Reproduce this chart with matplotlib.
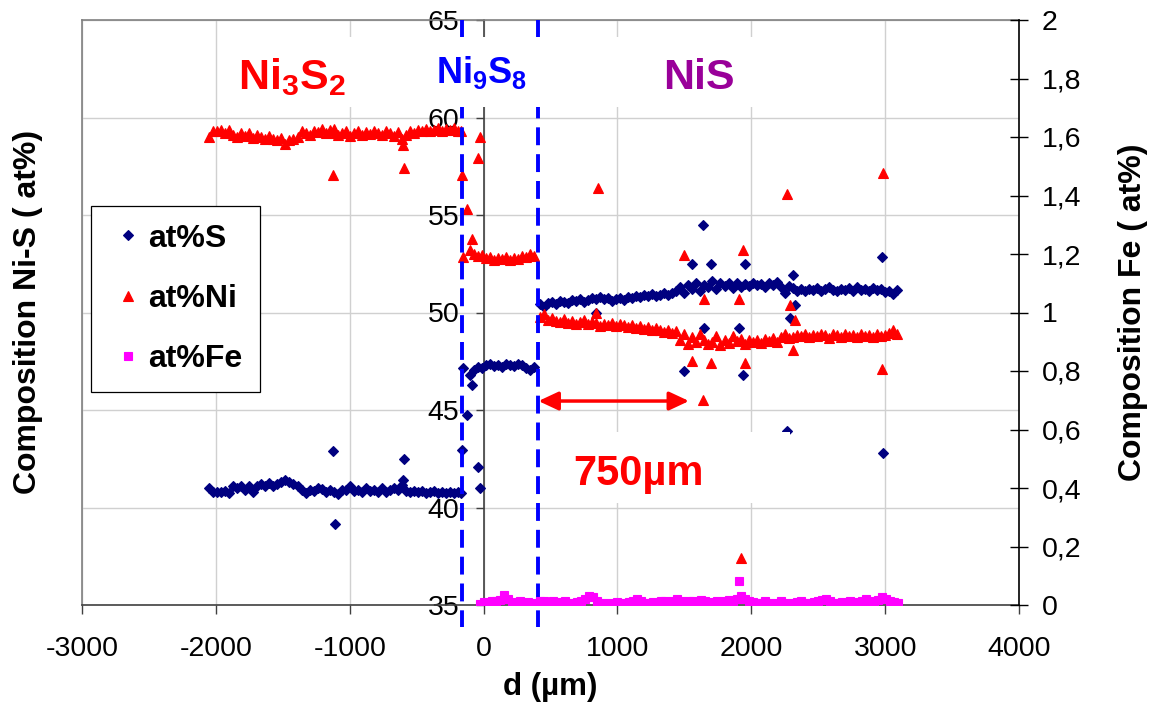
import matplotlib
matplotlib.use('Agg')
import matplotlib.pyplot as plt
from matplotlib.lines import Line2D
from matplotlib.patches import Rectangle

plt.rcParams['font.family'] = ['Liberation Sans', 'DejaVu Sans']
plt.rcParams['mathtext.default'] = 'regular'
plt.rcParams['axes.unicode_minus'] = False

# ---------------- data ----------------
# Ni3S2 zone
d_ni3s2 = [-2050, -2020, -1990, -1960, -1930, -1900, -1870, -1840, -1810, -1780,
           -1750, -1720, -1690, -1660, -1630, -1600, -1570, -1540, -1510, -1480,
           -1450, -1420, -1390, -1360, -1330, -1300, -1270, -1240, -1210, -1180,
           -1150, -1120, -1090, -1060, -1030, -1000, -970, -940, -910, -880,
           -850, -820, -790, -760, -730, -700, -670, -640, -610, -580,
           -550, -520, -490, -460, -430, -400, -370, -340, -310, -280,
           -250, -220, -190]
s_ni3s2 = [41.0, 40.8, 40.8, 40.8, 40.85, 40.75, 41.1, 41.0, 41.1, 40.9,
           41.1, 40.8, 41.1, 41.2, 41.1, 41.25, 41.1, 41.2, 41.3, 41.4,
           41.3, 41.2, 41.1, 40.9, 40.75, 40.9, 40.85, 41.0, 40.95, 40.8,
           40.9, 40.8, 40.7, 40.9, 40.9, 41.1, 40.85, 40.9, 40.8, 41.0,
           40.85, 40.9, 40.8, 41.0, 40.8, 40.9, 41.0, 40.9, 41.15, 40.85,
           40.8, 40.85, 40.8, 40.85, 40.75, 40.8, 40.85, 40.75, 40.8, 40.75,
           40.8, 40.75, 40.8]
ni_ni3s2 = [59.0, 59.3, 59.3, 59.35, 59.2, 59.35, 59.1, 59.0, 59.2, 59.05,
            59.2, 58.95, 59.1, 59.0, 58.9, 59.05, 58.9, 58.85, 58.95, 58.65,
            58.85, 58.9, 59.0, 59.3, 59.2, 59.1, 59.3, 59.25, 59.4, 59.2,
            59.35, 59.4, 59.1, 59.2, 59.3, 59.05, 59.2, 59.3, 59.1, 59.25,
            59.15, 59.3, 59.2, 59.1, 59.3, 59.2, 59.05, 59.25, 58.9, 59.1,
            59.3, 59.2, 59.35, 59.3, 59.4, 59.3, 59.35, 59.45, 59.3, 59.4,
            59.35, 59.45, 59.3]
d_ni3s2_out = [-1125, -1110, -605, -595]
s_ni3s2_out = [42.9, 39.15, 41.4, 42.5]
ni_ni3s2_out = [57.05, 59.2, 58.6, 57.4]

# transition Ni3S2 -> Ni9S8
d_trans = [-170, -160, -150, -125, -102, -87, -45, -30]
s_trans = [40.75, 42.95, 47.15, 44.75, 46.8, 46.3, 42.1, 41.0]
ni_trans = [59.3, 57.05, 52.85, 55.3, 53.2, 53.75, 57.9, 59.0]

# Ni9S8 zone
d_ni9s8 = [-70, -40, -10, 20, 50, 80, 110, 140, 170, 200, 230, 260, 290, 320, 350, 380]
s_ni9s8 = [47.05, 47.2, 47.15, 47.3, 47.35, 47.25, 47.3, 47.2, 47.35, 47.3,
           47.25, 47.35, 47.3, 47.15, 47.05, 47.2]
ni_ni9s8 = [53.0, 52.9, 52.95, 52.8, 52.85, 52.7, 52.8, 52.75, 52.85, 52.7,
            52.8, 52.75, 52.9, 52.85, 53.0, 52.9]

# NiS zone
d_nis = [420, 450, 480, 510, 540, 570, 600, 630, 660, 690,
         720, 750, 780, 810, 840, 870, 900, 930, 960, 990,
         1020, 1050, 1080, 1110, 1140, 1170, 1200, 1230, 1260, 1290,
         1320, 1350, 1380, 1410, 1440, 1470, 1500, 1530, 1560, 1590,
         1620, 1650, 1680, 1710, 1740, 1770, 1800, 1830, 1860, 1890,
         1920, 1950, 1980, 2010, 2040, 2070, 2100, 2130, 2160, 2190,
         2220, 2250, 2280, 2310, 2340, 2370, 2400, 2430, 2460, 2490,
         2520, 2550, 2580, 2610, 2640, 2670, 2700, 2730, 2760, 2790,
         2820, 2850, 2880, 2910, 2940, 2970, 3000, 3030, 3060, 3090]
s_nis = [50.45, 50.3, 50.5, 50.55, 50.45, 50.6, 50.55, 50.5, 50.65, 50.6,
         50.7, 50.55, 50.65, 50.75, 50.7, 50.8, 50.7, 50.75, 50.6, 50.7,
         50.75, 50.65, 50.8, 50.75, 50.85, 50.8, 50.9, 50.85, 50.95, 50.85,
         50.9, 51.0, 50.9, 51.0, 51.1, 51.3, 51.0, 51.4, 51.2, 51.5,
         51.1, 51.4, 51.3, 51.6, 51.2, 51.5, 51.35, 51.5, 51.25, 51.5,
         51.3, 51.45, 51.35, 51.5, 51.4, 51.45, 51.3, 51.5, 51.4, 51.55,
         51.3, 51.0, 51.35, 51.25, 51.1, 51.2, 51.1, 51.2, 51.15, 51.25,
         51.1, 51.2, 51.3, 51.15, 51.1, 51.2, 51.15, 51.25, 51.1, 51.3,
         51.15, 51.2, 51.1, 51.25, 51.15, 51.2, 51.05, 51.1, 50.95, 51.15]
ni_nis = [49.75, 49.9, 49.6, 49.7, 49.55, 49.5, 49.65, 49.45, 49.55, 49.4,
          49.5, 49.6, 49.4, 49.5, 49.45, 49.3, 49.4, 49.35, 49.45, 49.3,
          49.4, 49.35, 49.25, 49.35, 49.2, 49.3, 49.15, 49.25, 49.1, 49.2,
          49.1, 49.0, 49.1, 48.95, 49.05, 48.6, 48.9, 48.4, 48.75, 48.5,
          48.9, 48.6, 48.4, 48.5, 48.8, 48.35, 48.6, 48.45, 48.8, 48.55,
          48.65, 48.4, 48.6, 48.5, 48.6, 48.45, 48.65, 48.55, 48.7, 48.5,
          48.75, 48.9, 48.7, 48.75, 48.85, 48.8, 48.9, 48.75, 48.85, 48.8,
          48.9, 48.85, 48.7, 48.9, 48.85, 48.75, 48.9, 48.8, 48.85, 48.75,
          48.9, 48.8, 48.85, 48.75, 48.9, 48.8, 48.85, 48.95, 49.1, 48.9]
d_nis_out = [840, 855, 1497, 1557, 1640, 1645, 1700, 1905, 1920, 1937,
             1950, 2265, 2290, 2310, 2325, 2980, 2985]
s_nis_out = [50.0, 43.6, 47.0, 52.5, 54.5, 49.2, 52.5, 49.2, 62.5, 46.8,
             52.5, 43.9, 49.7, 51.9, 50.4, 52.85, 42.8]
ni_nis_out = [50.0, 56.4, 52.95, 47.5, 45.5, 50.7, 47.4, 50.7, 37.4, 53.2,
              47.4, 56.1, 50.4, 48.1, 49.6, 47.1, 57.15]

# Fe (right axis)
d_fe = [-25, 5, 35, 65, 95, 125, 155, 185, 215, 245,
        275, 305, 335, 365, 395, 425, 455, 485, 515, 545,
        575, 605, 635, 665, 695, 725, 755, 785, 815, 845,
        875, 905, 935, 965, 995, 1025, 1055, 1085, 1115, 1145,
        1175, 1205, 1235, 1265, 1295, 1325, 1355, 1385, 1415, 1445,
        1475, 1505, 1535, 1565, 1595, 1625, 1655, 1685, 1715, 1745,
        1775, 1805, 1835, 1865, 1895, 1925, 1955, 1985, 2015, 2045,
        2075, 2105, 2135, 2165, 2195, 2225, 2255, 2285, 2315, 2345,
        2375, 2405, 2435, 2465, 2495, 2525, 2555, 2585, 2615, 2645,
        2675, 2705, 2735, 2765, 2795, 2825, 2855, 2885, 2915, 2945,
        2975, 3005, 3035, 3065, 3095, 1907]
fe = [0.005, 0.01, 0.008, 0.012, 0.015, 0.018, 0.033, 0.02, 0.01, 0.008,
      0.012, 0.006, 0.01, 0.005, 0.008, 0.015, 0.012, 0.008, 0.012, 0.01,
      0.006, 0.012, 0.008, 0.005, 0.01, 0.012, 0.02, 0.032, 0.028, 0.015,
      0.006, 0.004, 0.008, 0.005, 0.01, 0.006, 0.004, 0.01, 0.012, 0.02,
      0.012, 0.008, 0.006, 0.01, 0.006, 0.012, 0.015, 0.01, 0.012, 0.02,
      0.012, 0.008, 0.012, 0.015, 0.01, 0.018, 0.012, 0.008, 0.01, 0.014,
      0.008, 0.012, 0.016, 0.01, 0.02, 0.03, 0.02, 0.012, 0.01, 0.006,
      0.008, 0.012, 0.006, 0.004, 0.008, 0.012, 0.006, 0.004, 0.008, 0.01,
      0.012, 0.008, 0.006, 0.01, 0.014, 0.016, 0.022, 0.015, 0.008, 0.006,
      0.01, 0.008, 0.012, 0.01, 0.006, 0.012, 0.022, 0.012, 0.008, 0.016,
      0.026, 0.02, 0.015, 0.01, 0.006, 0.082]

x_ticks = [-3000, -2000, -1000, 0, 1000, 2000, 3000, 4000]
y_left_ticks = [35, 40, 45, 50, 55, 60, 65]
y_right_ticks = [0, 0.2, 0.4, 0.6, 0.8, 1.0, 1.2, 1.4, 1.6, 1.8, 2.0]
y_right_labels = ['0', '0,2', '0,4', '0,6', '0,8', '1', '1,2', '1,4', '1,6', '1,8', '2']

boundaries = [-162, 405]
arrow_span = (410, 1535)
arrow_level = 45.46

# ---------------- figure ----------------
W, H = 1155, 704
fig = plt.figure(figsize=(W / 100, H / 100), dpi=100)
L, R, T, B = 82, 1019, 20, 605
ax = fig.add_axes([L / W, 1 - B / H, (R - L) / W, (B - T) / H])
ax.set_xlim(-3000, 4000)
ax.set_ylim(35, 65)
ax2 = ax.twinx()
ax2.set_ylim(0, 2)

ax.set_xticks(x_ticks)
ax.set_xticklabels([str(v) for v in x_ticks])
ax.set_yticks(y_left_ticks)
ax.grid(True, color='#D0D0D0', lw=1.0)
ax.set_axisbelow(True)

ax.spines['left'].set_position(('data', 0))
ax.spines['left'].set_color('#404040')
ax.spines['left'].set_linewidth(1.2)
ax.spines['right'].set_visible(False)
ax.spines['top'].set_color('#808080')
ax.spines['top'].set_linewidth(1.2)
ax.spines['bottom'].set_color('#404040')
ax.spines['bottom'].set_linewidth(1.2)
ax.plot([0, 0], [0, 1], transform=ax.transAxes, color='#808080', lw=1.2,
        clip_on=False, zorder=2.5)
for s in ['left', 'top', 'bottom']:
    ax2.spines[s].set_visible(False)
ax2.spines['right'].set_color('black')
ax2.spines['right'].set_linewidth(1.2)

ax.tick_params(axis='x', direction='out', length=6.5, width=1, labelsize=20.5,
               pad=16, color='#404040')
ax.tick_params(axis='y', direction='out', length=5.8, width=1, labelsize=20.5,
               pad=11.5, color='#404040')
ax2.set_yticks(y_right_ticks)
ax2.set_yticklabels(y_right_labels)
ax2.tick_params(axis='y', direction='inout', length=13, width=1, labelsize=20.5,
                pad=10)

S_col, Ni_col, Fe_col = '#000080', '#FF0000', '#FF00FF'
mS = dict(marker='D', ms=5.3, color=S_col, mec=S_col, mew=0.8, ls='none', zorder=3)
mNi = dict(marker='^', ms=7.6, color=Ni_col, mec=Ni_col, mew=0.8, ls='none', zorder=3)
mFe = dict(marker='s', ms=6.2, color=Fe_col, mec=Fe_col, mew=0.8, ls='none', zorder=3)

for dd, ss in [(d_ni3s2, s_ni3s2), (d_ni3s2_out, s_ni3s2_out), (d_trans, s_trans),
               (d_ni9s8, s_ni9s8), (d_nis, s_nis), (d_nis_out, s_nis_out)]:
    ax.plot(dd, ss, **mS)
for dd, nn in [(d_ni3s2, ni_ni3s2), (d_ni3s2_out, ni_ni3s2_out), (d_trans, ni_trans),
               (d_ni9s8, ni_ni9s8), (d_nis, ni_nis), (d_nis_out, ni_nis_out)]:
    ax.plot(dd, nn, **mNi)
ax2.plot(d_fe, fe, **mFe)

# phase boundaries
for xb in boundaries:
    ax.plot([xb, xb], [65, 33.87], color='#0000FF', lw=2.8, ls=(0, (4.6, 2.3)),
            clip_on=False, zorder=3.5, solid_capstyle='butt', dash_capstyle='butt')

# white label boxes
for (x0, x1, y0, y1) in [(-1930, -923, 60.54, 64.13), (-401, 458, 60.54, 64.13),
                         (907, 2063, 60.54, 64.13), (480, 2288, 40.23, 43.87)]:
    ax.add_patch(Rectangle((x0, y0), x1 - x0, y1 - y0, facecolor='white',
                           edgecolor='none', zorder=4))

ax.text(-1432, 61.46, r'Ni$_3$S$_2$', color='#FF0000', fontsize=31, fontweight='bold',
        ha='center', va='baseline', zorder=6)
ax.text(-16, 61.77, r'Ni$_9$S$_8$', color='#0000FF', fontsize=26, fontweight='bold',
        ha='center', va='baseline', zorder=6)
ax.text(1612, 61.46, 'NiS', color='#990099', fontsize=31, fontweight='bold',
        ha='center', va='baseline', zorder=6)
ax.text(1160, 41.15, '750µm', color='#FF0000', fontsize=30, fontweight='bold',
        ha='center', va='baseline', zorder=6)

ax.annotate('', xy=(arrow_span[1], arrow_level), xytext=(arrow_span[0], arrow_level),
            arrowprops=dict(arrowstyle='<|-|>,head_length=0.6,head_width=0.28',
                            color='#FF0000', lw=2.5, shrinkA=0, shrinkB=0,
                            mutation_scale=20), zorder=5)

# axis titles
fig.text(550 / W, 1 - 686.5 / H, 'd (µm)', fontsize=22.5, fontweight='bold',
         ha='center', va='center')
fig.text(28 / W, 1 - 312 / H, 'Composition Ni-S ( at%)', fontsize=23, fontweight='bold',
         rotation=90, ha='center', va='center')
fig.text(1133 / W, 1 - 312 / H, 'Composition Fe ( at%)', fontsize=23, fontweight='bold',
         rotation=90, ha='center', va='center')

# legend
handles = [Line2D([], [], **{**mS, 'ms': 4.6, 'zorder': 1}),
           Line2D([], [], **{**mNi, 'ms': 6.8, 'zorder': 1}),
           Line2D([], [], **{**mFe, 'ms': 5.6, 'zorder': 1})]
leg = ax2.legend(handles, ['at%S', 'at%Ni', 'at%Fe'], loc='upper left',
                 bbox_to_anchor=((91 - L) / (R - L), 1 - (206 - T) / (B - T)),
                 borderaxespad=0, borderpad=0.55, handlelength=1.2, handletextpad=0.05,
                 labelspacing=0.95, fancybox=False, framealpha=1, edgecolor='black',
                 prop=dict(size=23, weight='bold'))
leg.get_frame().set_linewidth(0.9)

fig.savefig('out.png', dpi=100)
